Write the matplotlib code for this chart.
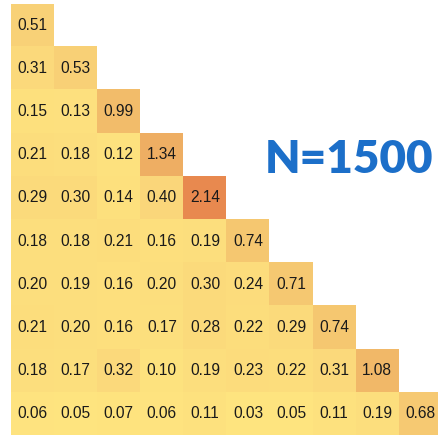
import numpy as np
import matplotlib.pyplot as plt
from matplotlib.colors import LinearSegmentedColormap

# lower triangle of the matrix, one list per row
row_vals = [
    [0.51],
    [0.31, 0.53],
    [0.15, 0.13, 0.99],
    [0.21, 0.18, 0.12, 1.34],
    [0.29, 0.30, 0.14, 0.40, 2.14],
    [0.18, 0.18, 0.21, 0.16, 0.19, 0.74],
    [0.20, 0.19, 0.16, 0.20, 0.30, 0.24, 0.71],
    [0.21, 0.20, 0.16, 0.17, 0.28, 0.22, 0.29, 0.74],
    [0.18, 0.17, 0.32, 0.10, 0.19, 0.23, 0.22, 0.31, 1.08],
    [0.06, 0.05, 0.07, 0.06, 0.11, 0.03, 0.05, 0.11, 0.19, 0.68],
]
label = "N=1500"

n = len(row_vals)
mat = np.full((n, n), np.nan)
for i, row in enumerate(row_vals):
    mat[i, :len(row)] = row

vmax = 2.14
cmap = LinearSegmentedColormap.from_list(
    "warm",
    [(0.0, "#FFE680"), (0.4 / vmax, "#FAD67A"), (1.0 / vmax, "#F2BC6A"),
     (1.34 / vmax, "#EFAF64"), (1.0, "#E8894F")])

fig = plt.figure(figsize=(4.38, 4.36), dpi=100)
ax = fig.add_axes([11 / 438, 1 / 436, 431 / 438, 431 / 436])
ax.imshow(np.ma.masked_invalid(mat), cmap=cmap, vmin=0, vmax=vmax,
          aspect="auto", interpolation="nearest")

for i in range(n):
    for j in range(i + 1):
        ax.text(j, i, f"{mat[i, j]:.2f}", ha="center", va="center",
                fontsize=11.2, color="#1a1a1a",
                family=["Liberation Sans", "DejaVu Sans"])

ax.text(7.35, 3.1, label, ha="center", va="center", fontsize=33,
        fontweight="heavy", color="#1C6FC9", family=["Lato", "DejaVu Sans"])

ax.set_xlim(-0.5, n - 0.5)
ax.set_ylim(n - 0.5, -0.5)
ax.axis("off")

fig.savefig("out.png", dpi=100)
